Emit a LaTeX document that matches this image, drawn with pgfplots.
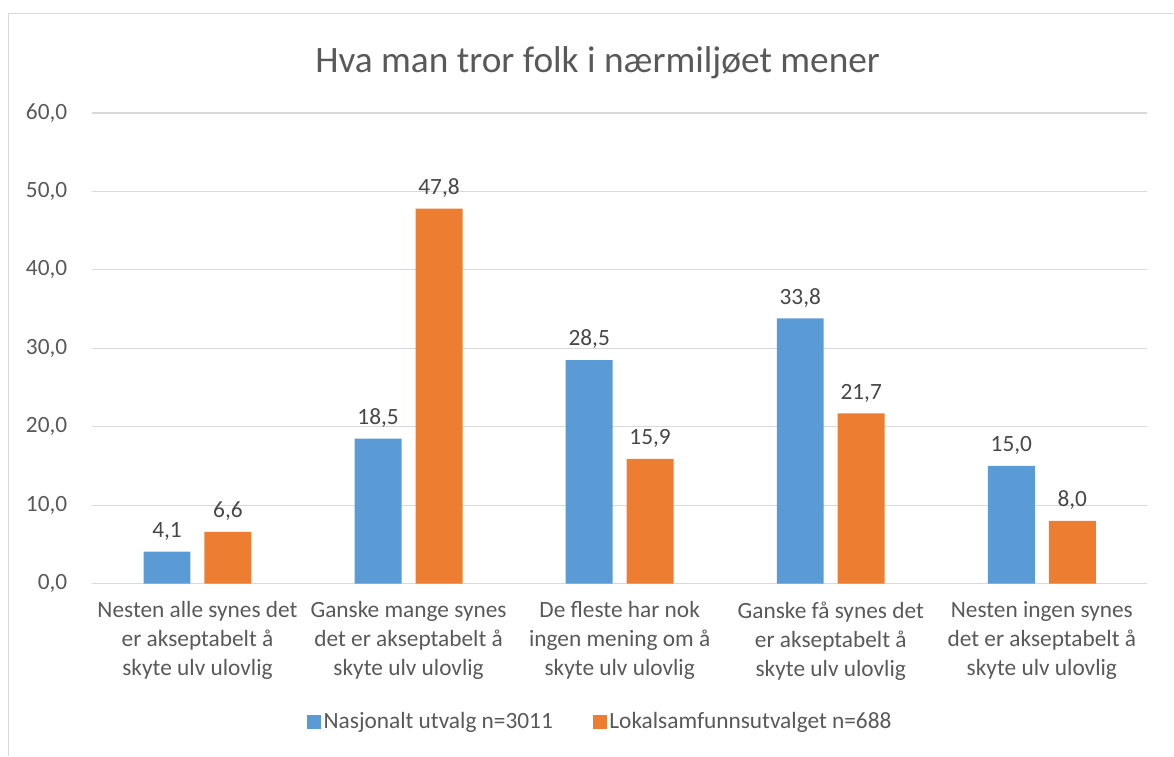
\documentclass[border=0pt]{standalone}
\usepackage{fontspec}
\setmainfont{Carlito}
\usepackage{pgfplots}
\pgfplotsset{compat=1.18}

\definecolor{nasj}{HTML}{5B9BD5}
\definecolor{lokal}{HTML}{ED7D31}
\definecolor{txt}{HTML}{595959}
\definecolor{grid}{HTML}{D9D9D9}

\begin{document}
\begin{tikzpicture}
\begin{axis}[
    at={(0pt,0pt)}, anchor=south west,
    scale only axis,
    width=792pt, height=353.25pt,
    ybar=10.5pt,
    bar width=35.25pt,
    xmin=-0.5, xmax=4.5,
    ymin=0, ymax=60,
    ytick={0,10,...,60},
    xtick=data,
    xticklabels={
        {Nesten alle synes det\\er akseptabelt å\\skyte ulv ulovlig},
        {Ganske mange synes\\det er akseptabelt å\\skyte ulv ulovlig},
        {De fleste har nok\\ingen mening om å\\skyte ulv ulovlig},
        {Ganske få synes det\\er akseptabelt å\\skyte ulv ulovlig},
        {Nesten ingen synes\\det er akseptabelt å\\skyte ulv ulovlig}
    },
    x tick label style={align=center, font=\fontsize{17.5}{21.75}\selectfont, text=txt, yshift=-10pt},
    y tick label style={font=\fontsize{17.5}{21}\selectfont, text=txt, xshift=-15pt},
    /pgf/number format/.cd, fixed, fixed zerofill, precision=1, use comma, assume math mode=true,
    /pgfplots/.cd,
    major tick length=0pt,
    axis line style={draw=none},
    xmajorgrids=false,
    ymajorgrids=true,
    grid style={draw=grid, line width=0.9pt},
    nodes near coords,
    every node near coord/.append style={font=\fontsize{17.5}{21}\selectfont, text=txt!80!black, yshift=5pt},
    legend style={at={(0.482,-0.293)}, anchor=center, draw=none, legend columns=2,
        font=\fontsize{17.5}{21}\selectfont, text=txt,
        /tikz/every even column/.append style={column sep=28pt}},
    legend image code/.code={\fill[#1] (0pt,-5.2pt) rectangle (10.4pt,5.2pt);},
    clip=false,
]
\addplot[fill=nasj, draw=none] coordinates {(0,4.1) (1,18.5) (2,28.5) (3,33.8) (4,15.0)};
\addplot[fill=lokal, draw=none] coordinates {(0,6.6) (1,47.8) (2,15.9) (3,21.7) (4,8.0)};
\legend{Nasjonalt utvalg n=3011, Lokalsamfunnsutvalget n=688}
\end{axis}
\node[text=txt, font=\fontsize{28}{33}\selectfont] at (379.5pt,391pt) {Hva man tror folk i nærmiljøet mener};
\draw[grid, line width=1pt] (-62.6pt,-129pt) -- (-62.6pt,427.9pt) -- (811.5pt,427.9pt);
\path[use as bounding box] (-69pt,-129pt) rectangle (811.5pt,438pt);
\end{tikzpicture}
\end{document}
